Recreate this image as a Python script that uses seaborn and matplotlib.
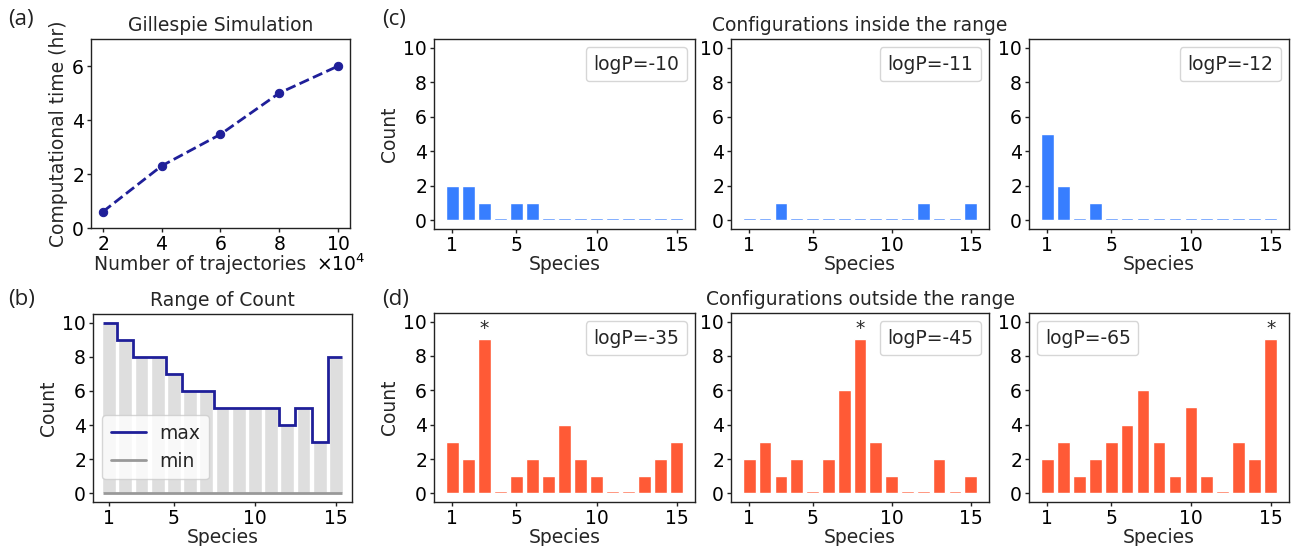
import numpy as np
import pandas as pd
import matplotlib
matplotlib.use("Agg")
import matplotlib.pyplot as plt
import seaborn as sns

# ---------------- data ----------------
n_traj = [20000, 40000, 60000, 80000, 100000]
comp_time = [0.6, 2.3, 3.47, 5.0, 6.0]

species = list(range(1, 16))
count_max = [10, 9, 8, 8, 7, 6, 6, 5, 5, 5, 5, 4, 5, 3, 8]
count_min = [0] * 15

inside_labels = ["logP=-10", "logP=-11", "logP=-12"]
inside_1 = [2, 2, 1, 0, 1, 1, 0, 0, 0, 0, 0, 0, 0, 0, 0]
inside_2 = [0, 0, 1, 0, 0, 0, 0, 0, 0, 0, 0, 1, 0, 0, 1]
inside_3 = [5, 2, 0, 1, 0, 0, 0, 0, 0, 0, 0, 0, 0, 0, 0]

outside_labels = ["logP=-35", "logP=-45", "logP=-65"]
outside_1 = [3, 2, 9, 0, 1, 2, 1, 4, 2, 1, 0, 0, 1, 2, 3]
outside_2 = [2, 3, 1, 2, 0, 2, 6, 9, 3, 1, 0, 0, 2, 0, 1]
outside_3 = [2, 3, 1, 2, 3, 4, 6, 3, 1, 5, 1, 0, 3, 2, 9]
outside_star = [3, 8, 15]  # species marked with *

BLUE = "#377eff"
ORANGE = "#ff5a36"
NAVY = "#1f1f99"
LIGHT = "#dedede"
FS = 13.5

sns.set_style("ticks")
plt.rcParams["font.family"] = ["DejaVu Sans"]
plt.rcParams["font.size"] = FS

W, H = 1293, 546
fig = plt.figure(figsize=(W / 100, H / 100), dpi=100)


def px_axes(left, top, right, bottom):
    return fig.add_axes([left / W, 1 - bottom / H, (right - left) / W, (bottom - top) / H])


def style_axes(ax):
    for s in ax.spines.values():
        s.set_visible(True)
        s.set_color("#222222")
        s.set_linewidth(1.0)
    ax.tick_params(labelsize=FS, length=3, width=1, pad=2, colors="#222222",
                   labelcolor="black")


def species_axes(ax, ylabel=True):
    ax.set_xlim(-0.15, 16.15)
    ax.set_ylim(-0.5, 10.5)
    ax.set_xticks([1, 5, 10, 15])
    ax.set_xticklabels(["1", "5", "10", "15"])
    ax.set_yticks([0, 2, 4, 6, 8, 10])
    ax.set_xlabel("Species", fontsize=FS, labelpad=0)
    ax.set_ylabel("Count" if ylabel else "", fontsize=FS, labelpad=3)
    style_axes(ax)


def count_bars(ax, values, color):
    shown = np.where(np.array(values) == 0, 0.15, values)
    df = pd.DataFrame({"species": species, "count": shown})
    sns.barplot(data=df, x="species", y="count", native_scale=True, color=color,
                saturation=1, width=0.8, errorbar=None, ax=ax)


def logp_legend(ax, label, loc):
    ax.plot([], [], " ", label=label)
    ax.legend(loc=loc, handlelength=0, handletextpad=0, fontsize=FS,
              borderpad=0.4, borderaxespad=0.45)


# ---------------- (a) ----------------
ax_a = px_axes(91, 39, 350, 228)
sns.lineplot(x=n_traj, y=comp_time, ax=ax_a, color=NAVY, marker="o", markersize=6,
             markeredgecolor=NAVY, linestyle="--", linewidth=2)
ax_a.set_ylim(0, 7)
ax_a.set_yticks([0, 2, 4, 6])
ax_a.set_xticks(n_traj)
ax_a.ticklabel_format(axis="x", style="sci", scilimits=(4, 4), useMathText=True)
ax_a.xaxis.OFFSETTEXTPAD = 0
ax_a.xaxis.get_offset_text().set_fontsize(FS)
ax_a.xaxis.get_offset_text().set_horizontalalignment("left")
ax_a.xaxis.get_offset_text().set_x(0.87)
ax_a.set_xlabel("Number of trajectories", fontsize=FS, labelpad=1, x=0.42)
ax_a.set_ylabel("Computational time (hr)", fontsize=FS, labelpad=3)
ax_a.set_title("Gillespie Simulation", fontsize=FS)
style_axes(ax_a)

# ---------------- (b) ----------------
ax_b = px_axes(93, 314, 352, 502)
df_b = pd.DataFrame({"species": species, "count": count_max})
sns.barplot(data=df_b, x="species", y="count", native_scale=True, color=LIGHT,
            saturation=1, width=0.85, errorbar=None, ax=ax_b)
edges = np.concatenate([[species[0] - 0.4], np.array(species[:-1]) + 0.5, [species[-1] + 0.4]])
ax_b.stairs(count_max, edges, baseline=None, color=NAVY, linewidth=2, label="max")
ax_b.stairs(count_min, edges, baseline=None, color="#999999", linewidth=2, label="min")
species_axes(ax_b)
ax_b.set_xlim(0, 16)
ax_b.set_title("Range of Count", fontsize=FS)
ax_b.legend(loc="lower left", bbox_to_anchor=(0.0, 0.07), fontsize=FS,
            handlelength=1.9, handletextpad=0.7, borderpad=0.45)

# ---------------- (c) ----------------
lefts = [434, 731, 1029]
rights = [695, 989, 1289]
inside = [inside_1, inside_2, inside_3]
for i in range(3):
    ax = px_axes(lefts[i], 39, rights[i], 229)
    count_bars(ax, inside[i], BLUE)
    species_axes(ax, ylabel=(i == 0))
    logp_legend(ax, inside_labels[i], "upper right")
    if i == 1:
        ax.set_title("Configurations inside the range", fontsize=FS)

# ---------------- (d) ----------------
outside = [outside_1, outside_2, outside_3]
for i in range(3):
    ax = px_axes(lefts[i], 313, rights[i], 502)
    count_bars(ax, outside[i], ORANGE)
    species_axes(ax, ylabel=(i == 0))
    logp_legend(ax, outside_labels[i], "upper left" if i == 2 else "upper right")
    s = outside_star[i]
    ax.text(s, outside[i][s - 1] + 0.05, "*", ha="center", va="bottom", fontsize=FS)
    if i == 1:
        ax.set_title("Configurations outside the range", fontsize=FS)

# panel letters
for lab, x, y in [("(a)", 8, 19), ("(b)", 8, 300), ("(c)", 382, 19), ("(d)", 382, 300)]:
    fig.text(x / W, 1 - y / H, lab, fontsize=16, family=["Open Sans", "DejaVu Sans"],
             ha="left", va="center", color="#222222")

fig.savefig("out.png", dpi=100)
